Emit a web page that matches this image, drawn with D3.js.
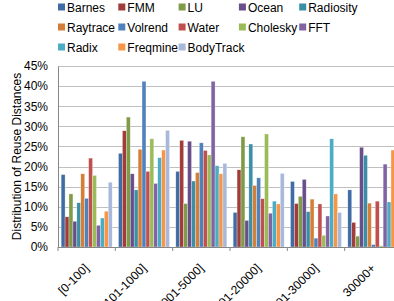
<!DOCTYPE html>
<html>
<head>
<meta charset="utf-8">
<script src="https://cdn.jsdelivr.net/npm/d3@7"></script>
<style>
  body { margin: 0; background: #fff; }
  svg { display: block; font-family: "Liberation Sans Narrow", "Liberation Sans", sans-serif; }
</style>
</head>
<body>
<svg id="chart" width="394" height="301"></svg>
<script>
// Reuse distance buckets
const buckets = ["[0-100]", "[101-1000]", "[1001-5000]", "[5001-20000]", "[20001-30000]", "30000+"];
const benchmarks = ["Barnes", "FMM", "LU", "Ocean", "Radiosity", "Raytrace", "Volrend",
  "Water", "Cholesky", "FFT", "Radix", "Freqmine", "BodyTrack"];
const colors = ["#3f6ca5", "#a03d3a", "#7f9b48", "#694f8a", "#3a8ea6", "#d37f37", "#4f81bd",
  "#c0504d", "#9bbb59", "#8064a2", "#4bacc6", "#f79646", "#a8b8da"];

// percent per benchmark, one entry per bucket
const barnes    = [18.0, 23.3, 18.8,  8.6, 16.3, 14.2];
const fmm       = [ 7.5, 28.9, 26.5, 19.2, 10.8,  6.1];
const lu        = [13.2, 32.3, 10.8, 27.4, 12.6,  2.7];
const ocean     = [ 6.4, 18.2, 26.3,  6.6, 16.8, 24.8];
const radiosity = [11.0, 14.2, 16.4, 25.6,  8.8, 22.8];
const raytrace  = [18.2, 24.3, 18.5, 15.3, 11.9, 10.9];
const volrend   = [12.1, 41.2, 25.9, 17.2,  2.2,  0.6];
const water     = [22.1, 18.8, 24.0, 12.0, 10.7, 11.4];
const cholesky  = [17.8, 26.9, 22.9, 28.1,  2.9,  0.3];
const fft       = [ 5.4, 15.8, 41.2,  8.4,  7.7, 20.6];
const radix     = [ 7.2, 22.2, 20.2, 11.4, 26.9, 11.2];
const freqmine  = [ 8.9, 24.1, 18.2, 10.7, 13.2, 24.1];
const bodytrack = [16.1, 29.0, 20.8, 18.3,  8.6, 10.0];

const series = [barnes, fmm, lu, ocean, radiosity, raytrace, volrend,
  water, cholesky, fft, radix, freqmine, bodytrack];
const yTicks = [0, 5, 10, 15, 20, 25, 30, 35, 40, 45];

(function() {
  const svg = d3.select("#chart");
  const left = 58, right = 402, top = 66, bottom = 247;

  const x0 = d3.scaleBand().domain(buckets).range([left, right]).paddingInner(0.11).paddingOuter(0.055);
  const x1 = d3.scaleBand().domain(benchmarks).range([0, x0.bandwidth()]);
  const y = d3.scaleLinear().domain([0, 45]).range([bottom, top]);

  // gridlines
  svg.append("g").selectAll("line").data(yTicks.slice(1)).enter().append("line")
    .attr("x1", left).attr("x2", right)
    .attr("y1", d => Math.round(y(d)) + 0.5).attr("y2", d => Math.round(y(d)) + 0.5)
    .attr("stroke", "#bfbfbf").attr("stroke-width", 1);

  // bars
  const groups = svg.append("g").selectAll("g").data(buckets).enter().append("g")
    .attr("transform", d => `translate(${x0(d)},0)`);
  groups.selectAll("rect").data((d, i) => benchmarks.map((b, j) => ({b: b, v: series[j][i], c: colors[j]})))
    .enter().append("rect")
    .attr("x", d => x1(d.b))
    .attr("width", x1.bandwidth())
    .attr("y", d => y(d.v))
    .attr("height", d => bottom - y(d.v))
    .attr("fill", d => d.c)
    .attr("stroke", "#fff").attr("stroke-opacity", 0.6).attr("stroke-width", 0.5);

  // y axis
  const yAxis = svg.append("g").attr("transform", `translate(${left},0)`)
    .call(d3.axisLeft(y).tickValues(yTicks).tickSize(0).tickPadding(10).tickFormat(d => d + "%"));
  yAxis.select(".domain").attr("stroke", "#868686");
  yAxis.selectAll("text").attr("font-size", 12).attr("fill", "#000");

  // x axis
  const xAxis = svg.append("g").attr("transform", `translate(0,${bottom})`);
  xAxis.append("line").attr("x1", left).attr("x2", right).attr("y1", 0.5).attr("y2", 0.5).attr("stroke", "#868686");
  xAxis.selectAll(".tk").data(d3.range(buckets.length + 1)).enter().append("line")
    .attr("x1", i => left + i * x0.step()).attr("x2", i => left + i * x0.step())
    .attr("y1", 0).attr("y2", 4).attr("stroke", "#868686");
  xAxis.selectAll("text").data(buckets).enter().append("text")
    .attr("transform", d => `translate(${x0(d) + x0.bandwidth() / 2 + 3},${22}) rotate(-45)`)
    .attr("text-anchor", "end").attr("font-size", 12).attr("fill", "#000").text(d => d);

  // y label
  svg.append("text").attr("transform", `translate(21,${(top + bottom) / 2}) rotate(-90)`)
    .attr("text-anchor", "middle").attr("font-size", 12).attr("fill", "#000")
    .text("Distribution of Reuse Distances");

  // legend
  const legend = svg.append("g");
  const items = legend.selectAll("g").data(benchmarks).enter().append("g")
    .attr("transform", (d, i) => `translate(${58 + (i % 5) * 60.3},${7 + Math.floor(i / 5) * 20})`);
  items.append("rect").attr("x", 0).attr("y", -3.5).attr("width", 7).attr("height", 7)
    .attr("fill", (d, i) => colors[i]);
  items.append("text").attr("x", 9).attr("y", 4.5).attr("font-size", 12).attr("fill", "#000").text(d => d);
})();
</script>
</body>
</html>
